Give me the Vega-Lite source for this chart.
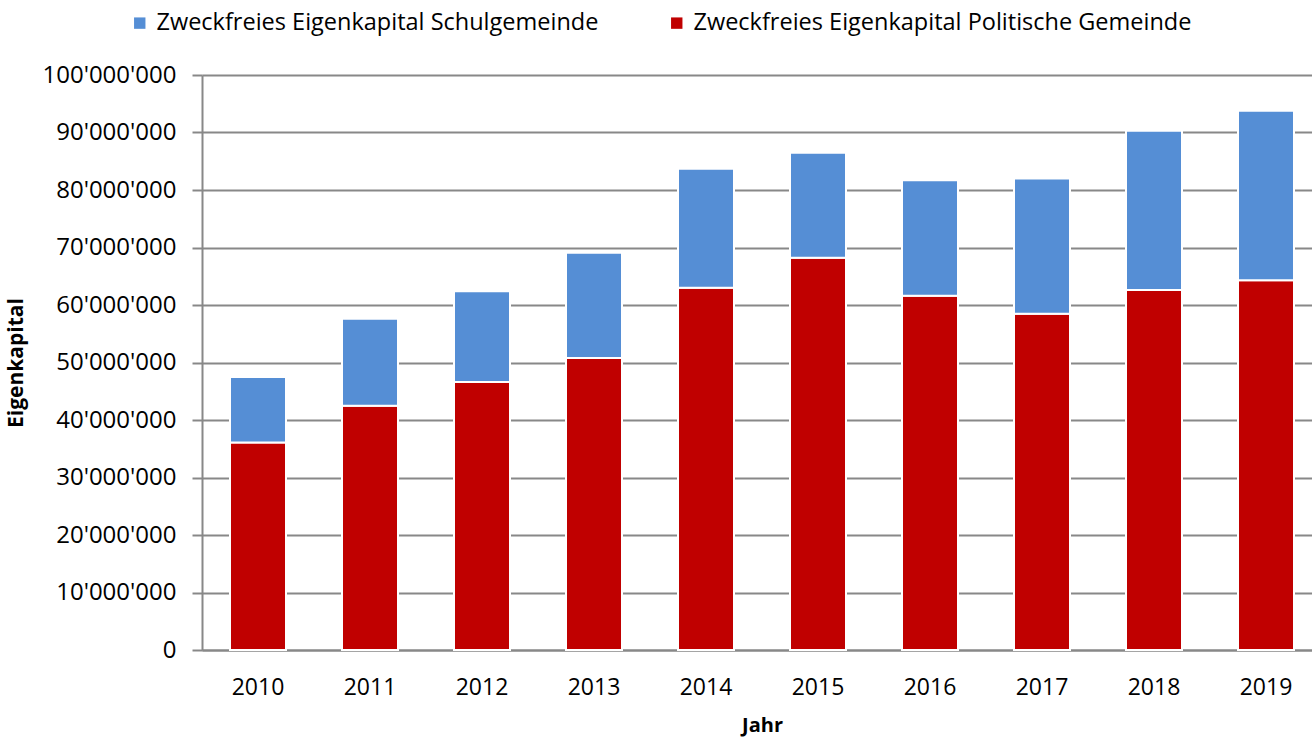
{
  "$schema": "https://vega.github.io/schema/vega-lite/v6.json",
  "autosize": {"type": "none"},
  "width": 1120,
  "height": 575,
  "padding": {"left": 202, "top": 75, "right": 0, "bottom": 90},
  "background": "white",
  "data": {
    "values": [
      {"jahr": "2010", "serie": "Zweckfreies Eigenkapital Politische Gemeinde", "wert": 36100000},
      {"jahr": "2010", "serie": "Zweckfreies Eigenkapital Schulgemeinde", "wert": 11400000},
      {"jahr": "2011", "serie": "Zweckfreies Eigenkapital Politische Gemeinde", "wert": 42500000},
      {"jahr": "2011", "serie": "Zweckfreies Eigenkapital Schulgemeinde", "wert": 15100000},
      {"jahr": "2012", "serie": "Zweckfreies Eigenkapital Politische Gemeinde", "wert": 46600000},
      {"jahr": "2012", "serie": "Zweckfreies Eigenkapital Schulgemeinde", "wert": 15800000},
      {"jahr": "2013", "serie": "Zweckfreies Eigenkapital Politische Gemeinde", "wert": 50800000},
      {"jahr": "2013", "serie": "Zweckfreies Eigenkapital Schulgemeinde", "wert": 18300000},
      {"jahr": "2014", "serie": "Zweckfreies Eigenkapital Politische Gemeinde", "wert": 63000000},
      {"jahr": "2014", "serie": "Zweckfreies Eigenkapital Schulgemeinde", "wert": 20700000},
      {"jahr": "2015", "serie": "Zweckfreies Eigenkapital Politische Gemeinde", "wert": 68200000},
      {"jahr": "2015", "serie": "Zweckfreies Eigenkapital Schulgemeinde", "wert": 18300000},
      {"jahr": "2016", "serie": "Zweckfreies Eigenkapital Politische Gemeinde", "wert": 61600000},
      {"jahr": "2016", "serie": "Zweckfreies Eigenkapital Schulgemeinde", "wert": 20100000},
      {"jahr": "2017", "serie": "Zweckfreies Eigenkapital Politische Gemeinde", "wert": 58500000},
      {"jahr": "2017", "serie": "Zweckfreies Eigenkapital Schulgemeinde", "wert": 23500000},
      {"jahr": "2018", "serie": "Zweckfreies Eigenkapital Politische Gemeinde", "wert": 62600000},
      {"jahr": "2018", "serie": "Zweckfreies Eigenkapital Schulgemeinde", "wert": 27700000},
      {"jahr": "2019", "serie": "Zweckfreies Eigenkapital Politische Gemeinde", "wert": 64300000},
      {"jahr": "2019", "serie": "Zweckfreies Eigenkapital Schulgemeinde", "wert": 29500000}
    ]
  },
  "mark": {"type": "bar", "stroke": "white", "strokeWidth": 2},
  "encoding": {
    "x": {
      "field": "jahr",
      "type": "ordinal",
      "title": "Jahr",
      "scale": {"paddingInner": 0.5, "paddingOuter": 0.25},
      "axis": {
        "labelAngle": 0,
        "ticks": false,
        "domainColor": "#888888",
        "domainWidth": 2,
        "labelFont": "Open Sans",
        "labelFontSize": 23,
        "labelColor": "#000000",
        "labelPadding": 26,
        "titleFont": "Open Sans",
        "titleFontSize": 20,
        "titleFontWeight": "bold",
        "titleColor": "#000000",
        "titlePadding": 16,
        "grid": false
      }
    },
    "y": {
      "field": "wert",
      "type": "quantitative",
      "stack": "zero",
      "title": "Eigenkapital",
      "scale": {"domain": [0, 100000000], "nice": false},
      "axis": {
        "values": [0, 10000000, 20000000, 30000000, 40000000, 50000000, 60000000, 70000000, 80000000, 90000000, 100000000],
        "labelExpr": "replace(format(datum.value, ','), regexp(',', 'g'), \"'\")",
        "domainColor": "#888888",
        "domainWidth": 2,
        "tickColor": "#888888",
        "tickWidth": 2,
        "tickSize": 10,
        "gridColor": "#888888",
        "gridWidth": 2,
        "labelFont": "Open Sans",
        "labelFontSize": 24,
        "labelColor": "#000000",
        "labelPadding": 16,
        "titleFont": "Open Sans",
        "titleFontSize": 21,
        "titleFontWeight": "bold",
        "titleColor": "#000000",
        "titlePadding": 15
      }
    },
    "color": {
      "field": "serie",
      "type": "nominal",
      "scale": {
        "domain": ["Zweckfreies Eigenkapital Schulgemeinde", "Zweckfreies Eigenkapital Politische Gemeinde"],
        "range": ["#558ED5", "#C00000"]
      },
      "legend": {
        "title": null,
        "orient": "none",
        "direction": "horizontal",
        "legendX": -74,
        "legendY": -64,
        "symbolType": "square",
        "symbolSize": 130,
        "symbolStrokeWidth": 0,
        "labelFont": "Open Sans",
        "labelFontSize": 23.5,
        "labelColor": "#000000",
        "labelOffset": 5,
        "labelLimit": 700,
        "columnPadding": 66
      }
    },
    "order": {"field": "serie", "sort": "ascending"}
  },
  "config": {
    "view": {"stroke": null}
  }
}
